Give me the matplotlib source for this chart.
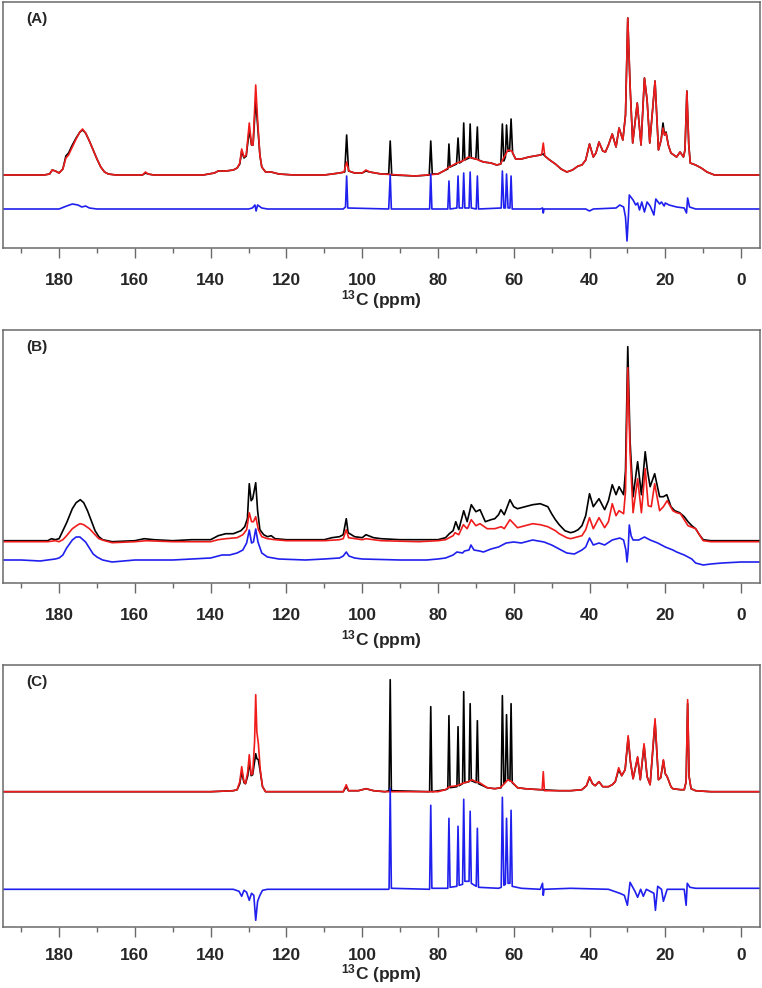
import numpy as np
import matplotlib
matplotlib.use("Agg")
import matplotlib.pyplot as plt

plt.rcParams['font.family'] = ['Liberation Sans', 'DejaVu Sans']
plt.rcParams['mathtext.fontset'] = 'custom'
plt.rcParams['mathtext.bf'] = 'Liberation Sans:bold'
plt.rcParams['mathtext.rm'] = 'Liberation Sans:bold'

# spectra: (ppm, intensity above own baseline)
a_black = [(195, 0), (184, 0), (182.5, 1), (181.8, 5), (181, 4), (180, 2), (179, 6), (178.2, 19), (177.5, 22),
           (176.5, 30), (175.5, 37), (174.5, 43), (173.8, 45), (173, 42), (172, 34), (171, 25), (170, 16), (169, 8),
           (168, 3), (167, 1), (165, 0), (158, 0), (157.2, 2), (156.5, 1), (155, 0), (142, 0), (139, 2), (138, 4),
           (136, 4), (134, 5), (133, 7), (132.3, 11), (131.8, 24), (131.2, 17), (130.6, 19), (129.8, 45), (129.2, 30),
           (128.8, 30), (128.1, 75), (127.6, 50), (127.0, 20), (126.5, 8), (125.5, 3), (124, 3), (122, 1), (118, 0),
           (110, 0), (106, 2), (104.6, 3), (104.1, 40), (103.6, 4), (102, 2), (100, 2), (99, 4), (98, 3), (95, 1),
           (93, 1), (92.6, 34), (92.2, 0), (86, -1), (82.3, 0), (81.9, 34), (81.5, 1), (80, 1), (78.5, 4), (77.4, 6),
           (77.1, 31), (76.8, 8), (75.1, 11), (74.7, 37), (74.3, 12), (73.5, 14), (73.2, 52), (72.9, 15), (71.8, 17),
           (71.5, 51), (71.2, 17), (70, 16), (69.6, 48), (69.3, 15), (68, 13), (66, 12), (64.5, 10), (63.4, 11),
           (63.0, 51), (62.6, 14), (62.2, 18), (61.9, 50), (61.5, 24), (61.1, 24), (60.7, 56), (60.3, 22), (59.5, 16),
           (58, 16), (56, 18), (54.5, 19), (53, 20), (52.2, 21), (51.8, 19), (50.5, 15), (49, 11), (47.5, 6), (46, 3),
           (44.5, 5), (43, 9), (42, 10), (41, 15), (40, 31), (39, 18), (38.3, 22), (37.5, 33), (36.5, 24), (35.8, 23),
           (35, 30), (34, 41), (33, 28), (32.2, 47), (31.2, 35), (30.5, 60), (29.9, 157), (29.3, 90), (28.6, 32),
           (27.4, 72), (26.4, 30), (25.5, 97), (24.8, 75), (24.1, 32), (22.7, 94), (21.8, 25), (21.1, 35), (20.6, 52),
           (20.2, 40), (19.8, 43), (19.2, 30), (18.5, 22), (17, 18), (16.1, 23), (15.2, 18), (14.8, 25), (14.3, 84),
           (13.8, 30), (13.4, 12), (12, 10), (10.5, 7), (9, 3), (7, 0), (-5, 0)]
a_red = [(195, 0), (184, 0), (182.5, 1), (181.8, 5), (181, 4), (180, 2), (179, 6), (178.2, 17), (177.5, 20),
         (176.5, 28), (175.5, 36), (174.5, 43), (173.8, 46), (173, 42), (172, 34), (171, 25), (170, 16), (169, 8),
         (168, 3), (167, 1), (165, 0), (158, 0), (157.2, 3), (156.5, 1), (155, 0), (142, 0), (139, 2), (138, 4),
         (136, 4), (134, 5), (133, 7), (132.3, 12), (131.8, 26), (131.2, 18), (130.6, 20), (129.8, 52), (129.2, 30),
         (128.8, 30), (128.1, 90), (127.6, 55), (127.0, 20), (126.5, 8), (125.5, 3), (124, 3), (122, 1), (118, 0),
         (110, 0), (106, 2), (104.8, 3), (104.1, 13), (103.5, 4), (102, 2), (100, 2), (99, 5), (98, 3), (95, 1),
         (90, 0), (86, -1), (83, 0), (80, 1), (78.5, 4), (77, 8), (75, 12), (73.5, 14), (72, 18), (71, 17), (70, 16),
         (68, 13), (66, 12), (64.5, 10), (63.5, 11), (62.5, 18), (61.5, 25), (60.5, 24), (59.5, 16), (58, 16),
         (56, 18), (54.5, 19), (53, 20), (52.6, 21), (52.2, 32), (51.8, 19), (50.5, 15), (49, 11), (47.5, 6), (46, 3),
         (44.5, 5), (43, 9), (42, 10), (41, 15), (40, 31), (39, 18), (38.3, 22), (37.5, 33), (36.5, 24), (35.8, 23),
         (35, 30), (34, 41), (33, 28), (32.2, 47), (31.2, 35), (30.5, 60), (29.9, 157), (29.3, 90), (28.6, 32),
         (27.4, 72), (26.4, 30), (25.5, 97), (24.8, 75), (24.1, 32), (22.7, 94), (21.8, 25), (21.1, 35), (20.6, 47),
         (20.2, 40), (19.8, 42), (19.2, 30), (18.5, 22), (17, 18), (16.1, 23), (15.2, 18), (14.8, 25), (14.3, 84),
         (13.8, 30), (13.4, 12), (12, 10), (10.5, 7), (9, 3), (7, 0), (-5, 0)]
a_blue = [(195, 0), (180, 0), (178, 3), (176.5, 5), (175, 4), (174, 2), (173, 3), (172, 1), (170, 0), (130, 0),
          (129, 1), (128.3, 4), (128.0, -2), (127.6, 4), (126.5, 1), (125, 0), (105, 0), (104.4, 2), (104.1, 33),
          (103.8, 1), (93, 0), (92.6, 34), (92.3, 0), (82.2, 0), (81.9, 35), (81.6, 0), (77.4, 0), (77.1, 28),
          (76.8, 0), (75.0, 1), (74.7, 33), (74.4, 1), (73.5, 1), (73.2, 36), (72.9, 1), (71.8, 1), (71.5, 37),
          (71.2, 1), (69.9, 0), (69.6, 33), (69.3, 0), (63.3, 1), (63.0, 38), (62.6, 1), (62.2, 1), (61.9, 35),
          (61.5, 1), (61.0, 1), (60.7, 33), (60.4, 0), (53, 0), (52.4, 1), (52.2, -4), (52, 0), (41, 0), (40, -2),
          (39, 0), (33, 1), (32, 4), (31, 2), (30.5, -8), (30.1, -32), (29.7, -5), (29.5, 14), (28.5, 9), (27.8, 4),
          (27.3, 6), (26.8, -1), (26.2, 7), (25.5, -3), (24.8, 7), (24, 3), (23, -6), (22.5, 10), (21.5, 5), (21, 7),
          (20.3, 3), (20, 6), (19, 4), (17, 2), (15, 1), (14.4, -4), (14.1, 11), (13.6, 2), (12, 0), (-5, 0)]

b_black = [(195, 0), (183, 0), (182, 2), (181, 1), (180, 2), (179.5, 6), (178, 18), (176.5, 32), (175.5, 38),
           (174.4, 41), (173.5, 38), (172.5, 30), (171.5, 20), (170.5, 10), (169.5, 4), (168.5, 1), (166, -1),
           (160, 0), (157.5, 2), (155, 1), (150, 0), (145, 1), (140, 1), (138, 5), (136, 7), (134, 7), (132, 10),
           (131, 14), (130.3, 22), (129.8, 57), (129.3, 40), (128.9, 42), (128.1, 58), (127.6, 30), (127, 11),
           (126, 6), (125, 4), (124, 5), (123, 2), (120, 1), (115, 1), (110, 1), (108, 3), (106, 4), (105, 6),
           (104.2, 22), (103.7, 8), (102, 4), (100, 3), (99, 6), (97, 3), (95, 2), (90, 1), (85, 1), (80, 1), (78, 3),
           (77, 7), (76, 10), (75.3, 19), (74.5, 11), (73.2, 30), (72.3, 19), (71.2, 36), (70, 29), (68.9, 31),
           (67.5, 19), (66, 21), (65, 22), (64, 26), (63.4, 31), (62.5, 26), (61, 41), (60, 34), (59, 32), (57, 34),
           (55, 36), (53, 37), (51, 34), (50, 27), (49, 21), (48, 16), (46.5, 10), (45, 8), (44, 9), (43, 11),
           (42, 15), (41, 25), (40, 47), (39, 34), (37.5, 42), (36, 31), (35, 40), (34, 56), (33, 46), (32.2, 54),
           (31, 46), (30.5, 70), (29.9, 194), (29.3, 100), (28.5, 44), (27.3, 79), (26.3, 46), (25.3, 89),
           (24.7, 70), (24, 54), (22.8, 67), (21.5, 44), (20.5, 44), (19.6, 46), (18.5, 34), (17.5, 30), (16.2, 28),
           (15, 24), (14, 19), (13, 15), (12, 12), (11, 6), (10, 1), (8, 0), (-5, 0)]
b_red = [(195, 0), (183, 0), (181, 1), (180, 0), (179, 2), (178, 6), (176.5, 13), (175, 17), (174.4, 18),
         (173.5, 17), (172, 13), (170.5, 7), (169.5, 3), (168, 1), (166, -1), (160, 0), (157, 1), (150, 0), (140, 0),
         (138, 2), (136, 3), (133, 4), (131.5, 7), (130.5, 12), (129.8, 29), (129.2, 20), (128.7, 20), (128.1, 25),
         (127.4, 12), (126.5, 5), (125, 3), (123, 2), (120, 1), (110, 1), (106, 2), (105, 3), (104.2, 12),
         (103.6, 4), (100, 2), (99, 3), (95, 1), (85, 0), (80, 1), (78, 2), (77, 4), (76, 6), (75.5, 9), (74.5, 7),
         (73.3, 17), (72.3, 13), (71.2, 22), (70, 16), (68.9, 18), (67, 13), (65, 13), (63.3, 15), (62.5, 13),
         (61, 22), (59, 14), (57, 16), (55, 18), (53, 17), (51, 15), (49, 11), (48, 8), (46, 4), (45, 3), (43, 5),
         (42, 6), (41, 12), (40, 24), (39, 13), (37.5, 24), (36, 14), (35, 20), (34, 38), (33, 26), (32.2, 31),
         (31, 28), (30.5, 50), (29.9, 174), (29.3, 90), (28.5, 29), (27.3, 63), (26.3, 29), (25.3, 73), (24.5, 36),
         (23.7, 35), (22.8, 58), (21.5, 31), (20.5, 35), (19.5, 41), (18, 31), (17, 29), (16, 28), (15, 22),
         (14, 16), (12, 13), (11, 7), (10, 1), (8, 0), (-5, 0)]
b_blue = [(195, 0), (190, 0), (185, -1), (181, 1), (180, 2), (179, 5), (178, 12), (176.5, 20), (175.5, 23),
          (174.5, 23), (173, 18), (172, 12), (171, 6), (170, 3), (168.5, 0), (166, -2), (160, 0), (150, 0), (145, 1),
          (140, 2), (137, 5), (135, 5), (133, 7), (131.5, 10), (130.5, 17), (129.8, 30), (129.2, 17), (128.7, 18),
          (128.1, 31), (127.5, 18), (126.5, 7), (125, 3), (122, 1), (115, 0), (110, 1), (106, 2), (105, 4),
          (104.2, 8), (103.5, 4), (102, 2), (100, 1), (90, 0), (83, 0), (80, 1), (78, 2), (76, 5), (75, 8),
          (73.5, 7), (73, 9), (71.8, 10), (71.3, 15), (70.5, 10), (69, 9), (68, 8), (66, 11), (64, 13), (62, 17),
          (60, 18), (58, 17), (55, 20), (52, 18), (50, 15), (48, 11), (46, 7), (44, 6), (42, 10), (41, 13), (40, 22),
          (39, 15), (37.5, 17), (36, 15), (34, 20), (32, 22), (31, 20), (30.4, 10), (30.1, -2), (29.8, 10),
          (29.5, 35), (29.0, 24), (28.5, 20), (27, 20), (25.5, 23), (24, 20), (22, 17), (20, 13), (18, 10), (17, 8),
          (15, 5), (14, 3), (13, 1), (12, -3), (10, -5), (8, -4), (5, -3), (0, -2), (-5, -2)]

c_black = [(195, 0), (140, 0), (134, 1), (133, 2), (132.3, 8), (131.8, 20), (131.2, 9), (130.8, 8), (130.2, 16),
           (129.8, 30), (129.3, 16), (128.9, 17), (128.4, 30), (128.1, 38), (127.8, 33), (127.4, 32), (126.9, 20),
           (126.3, 5), (125.5, 0), (110, 0), (105, 0), (104.2, 5), (103.6, 1), (101, 1), (99, 3), (97, 1), (94, 0),
           (92.9, 1), (92.6, 112), (92.3, 1), (82.2, 0), (81.9, 85), (81.6, 0), (78, 2), (77.4, 3), (77.1, 76),
           (76.8, 4), (75.0, 5), (74.7, 65), (74.4, 6), (73.5, 8), (73.2, 100), (72.9, 9), (71.8, 10), (71.5, 88),
           (71.2, 11), (69.9, 9), (69.6, 71), (69.3, 8), (67, 4), (65, 3), (63.3, 4), (63.0, 96), (62.6, 8),
           (62.2, 10), (61.9, 77), (61.5, 12), (61.0, 11), (60.7, 88), (60.4, 9), (59, 4), (57, 3), (53, 2),
           (48, 1), (45, 1), (42, 2), (40.8, 6), (40, 14), (39.2, 8), (38.5, 6), (37.5, 10), (36.5, 5), (35, 5),
           (34, 7), (33.2, 10), (32.3, 22), (31.5, 16), (30.6, 22), (29.8, 54), (29.2, 30), (28.5, 13), (27.3, 34),
           (26.6, 12), (25.6, 46), (24.8, 15), (24.0, 7), (22.7, 70), (21.8, 12), (21.2, 14), (20.5, 31),
           (20.0, 18), (19.5, 15), (18.5, 5), (18, 3), (16, 2), (15, 2), (14.5, 10), (14.1, 88), (13.7, 15),
           (13.2, 3), (12, 1), (8, 0), (-5, 0)]
c_red = [(195, 0), (140, 0), (134, 1), (133, 2), (132.3, 10), (131.8, 25), (131.2, 10), (130.8, 8), (130.2, 20),
         (129.8, 37), (129.3, 17), (128.9, 18), (128.4, 50), (128.1, 97), (127.8, 60), (127.4, 48), (126.9, 22),
         (126.3, 5), (125.5, 0), (110, 0), (105, 0), (104.2, 7), (103.6, 1), (101, 1), (99, 3), (97, 1), (94, 0),
         (80, 0), (78, 2), (77, 5), (75, 6), (73, 9), (72, 10), (71, 12), (70, 10), (69, 9), (67, 4), (65, 3),
         (63.5, 4), (62.5, 8), (61.5, 12), (60.5, 10), (59, 4), (57, 3), (53, 2), (52.5, 2), (52.2, 20), (51.9, 1),
         (48, 1), (45, 1), (42, 2), (40.8, 6), (40, 15), (39.2, 8), (38.5, 6), (37.5, 10), (36.5, 5), (35, 5),
         (34, 7), (33.2, 10), (32.3, 24), (31.5, 16), (30.6, 22), (29.8, 56), (29.2, 30), (28.5, 13), (27.3, 35),
         (26.6, 12), (25.6, 48), (24.8, 15), (24.0, 7), (22.7, 73), (21.8, 12), (21.2, 14), (20.5, 32), (20.0, 18),
         (19.5, 15), (18.5, 5), (18, 3), (16, 2), (15, 2), (14.5, 10), (14.1, 92), (13.7, 15), (13.2, 3), (12, 1),
         (8, 0), (-5, 0)]
c_blue = [(195, 0), (134, 0), (132.5, -2), (131.8, -7), (131.2, -1), (130.5, -3), (129.8, -11), (129.2, -4),
          (128.6, -6), (128.1, -31), (127.6, -12), (127, -6), (126.3, -1), (125, 0), (93, 0), (92.9, 1),
          (92.6, 101), (92.3, 1), (82.2, 0), (81.9, 84), (81.6, 1), (77.4, 1), (77.1, 71), (76.8, 2), (75.0, 3),
          (74.7, 63), (74.4, 4), (73.5, 5), (73.2, 90), (72.9, 8), (71.8, 8), (71.5, 78), (71.2, 6), (69.9, 3),
          (69.6, 61), (69.3, 2), (64, 1), (63.3, 2), (63.0, 92), (62.6, 4), (62.2, 5), (61.9, 71), (61.5, 6),
          (61.0, 6), (60.7, 79), (60.4, 3), (58, 1), (53, 0), (52.4, 6), (52.2, -6), (52, 0), (45, 1), (35, 0),
          (32, -4), (30.8, -6), (30, -16), (29.3, 7), (28, -2), (27.3, -8), (26.5, 0), (25.8, -7), (25, 0),
          (23, -4), (22.6, -21), (22, 3), (21, 0), (20.5, -12), (19.5, 0), (15, 0), (14.5, -16), (14.2, 6),
          (13.5, 2), (12, 1), (-5, 1)]

panel_names = ['(A)', '(B)', '(C)']
major_ticks = [180, 160, 140, 120, 100, 80, 60, 40, 20, 0]
minor_ticks = [190, 170, 150, 130, 110, 90, 70, 50, 30, 10]

W, H = 762, 988
fig = plt.figure(figsize=(W / 100, H / 100), dpi=100)

red = '#f01c1c'
blue = '#2020ee'
frame = '#6a6a6a'

# (top px, bottom px, ylim, tick pad pt, xlabel px below axis, traces with offsets)
panels = [
    (2, 248, (-73, 173), 10.8, 52, [(a_black, 'black', 0), (a_red, red, 0), (a_blue, blue, -34)]),
    (330, 583, (-42.3, 210.7), 10.8, 57, [(b_black, 'black', 0), (b_red, red, -1), (b_blue, blue, -19.3)]),
    (665, 927, (-135.3, 126.7), 8.0, 47, [(c_black, 'black', 0), (c_red, red, 0), (c_blue, blue, -97.6)]),
]

for (top, bot, ylim, pad, lab_off, traces), name in zip(panels, panel_names):
    ax = fig.add_axes([3 / W, 1 - bot / H, 757 / W, (bot - top) / H])
    for data, col, off in traces:
        arr = np.array(data, dtype=float)
        ax.plot(arr[:, 0], arr[:, 1] + off, color=col, lw=1.2)
    ax.set_xlim(194.8, -5.0)
    ax.set_ylim(*ylim)
    ax.set_yticks([])
    ax.set_xticks(major_ticks)
    ax.set_xticks(minor_ticks, minor=True)
    ax.tick_params(axis='x', which='major', direction='out', length=7, width=1, color=frame,
                   pad=pad, labelsize=12.5, labelcolor='#262626')
    ax.tick_params(axis='x', which='minor', direction='out', length=3.5, width=1, color=frame)
    for lab in ax.get_xticklabels():
        lab.set_fontweight('bold')
    for sp in ax.spines.values():
        sp.set_color(frame)
        sp.set_linewidth(1.1)
    ax.set_xlabel(r'$\mathbf{^{13}}$C (ppm)', fontsize=12.5, fontweight='bold', color='#262626')
    ax.xaxis.set_label_coords(0.5, -lab_off / (bot - top))
    ax.xaxis.label.set_va('center')
    ax.text(23 / 757, 1 - 17 / (bot - top), name, transform=ax.transAxes, fontsize=11,
            fontweight='bold', va='center', ha='left', color='#262626')

fig.savefig('out.png', dpi=100)
